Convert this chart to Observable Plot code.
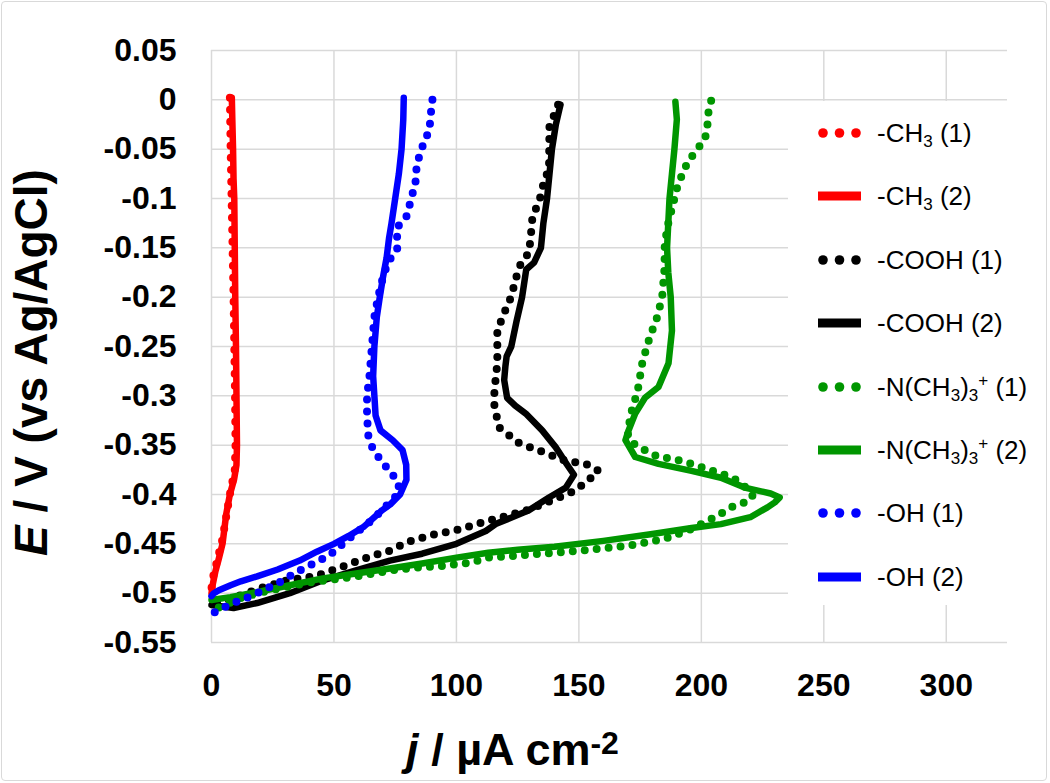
<!DOCTYPE html>
<html><head><meta charset="utf-8">
<script src="https://cdn.jsdelivr.net/npm/d3@7"></script>
<script src="https://cdn.jsdelivr.net/npm/@observablehq/plot@0.6"></script>
<style>
body{margin:0;background:#fff;}
#wrap{position:relative;width:1050px;height:783px;overflow:hidden;font-family:"Liberation Sans",Arial,sans-serif;background:#fff;}
#chart{position:absolute;left:0;top:0;}
#frame{position:absolute;left:1px;top:1px;width:1046px;height:780px;border:1.5px solid #d9d9d9;border-radius:4px;box-sizing:border-box;pointer-events:none;}
#legend{position:absolute;left:788px;top:101px;width:252px;height:504px;background:#fff;}
.item{position:absolute;left:0;height:30px;width:252px;}
.item svg{position:absolute;left:30px;top:5px;}
.item span{position:absolute;left:89px;top:0;line-height:30px;font-size:26px;color:#000;white-space:nowrap;}
.item sub{font-size:17px;vertical-align:-5px;line-height:0;}
.item sup{font-size:17px;vertical-align:10px;line-height:0;}
</style>
</head><body>
<div id="wrap"><div id="chart"></div><div id="legend"></div><div id="frame"></div></div>
<script>
// ---- axis ticks ----
const xTicks = [0, 50, 100, 150, 200, 250, 300];
const xTickLabels = ["0", "50", "100", "150", "200", "250", "300"];
const yTicks = [0.05, 0, -0.05, -0.1, -0.15, -0.2, -0.25, -0.3, -0.35, -0.4, -0.45, -0.5, -0.55];
const yTickLabels = ["0.05", "0", "-0.05", "-0.1", "-0.15", "-0.2", "-0.25", "-0.3", "-0.35", "-0.4", "-0.45", "-0.5", "-0.55"];
const xTitle = "j / µA cm-2";
const yTitle = "E / V (vs Ag/AgCl)";

// ---- series: [j (µA cm-2), E (V)] ----
const CH3_1 = [[7.5,0.002],[7.8,-0.05],[8.2,-0.1],[8.6,-0.15],[9,-0.2],[9.3,-0.25],[9.6,-0.3],[9.8,-0.35],[9.5,-0.375],[7.5,-0.4],[4.5,-0.445],[2,-0.47],[0.5,-0.485],[0,-0.495]];
const CH3_2 = [[8.3,0.002],[8.5,-0.02],[8.8,-0.05],[9.0,-0.08],[9.3,-0.1],[9.5,-0.15],[9.7,-0.2],[10.0,-0.25],[10.2,-0.3],[10.4,-0.35],[10.2,-0.37],[9.2,-0.385],[7.5,-0.4],[6,-0.42],[4.5,-0.45],[3,-0.465],[1.6,-0.478],[0.6,-0.49],[0,-0.5]];
const COOH_1 = [[141.5,-0.005],[140,-0.015],[138,-0.025],[137.8,-0.07],[135.7,-0.083],[134.5,-0.097],[131,-0.12],[130.3,-0.14],[129.6,-0.155],[126.4,-0.165],[124.4,-0.18],[122.3,-0.2],[118.8,-0.22],[116.7,-0.235],[116.7,-0.267],[115.5,-0.295],[115.5,-0.31],[117.4,-0.332],[125.6,-0.348],[136.5,-0.358],[144.7,-0.366],[152.8,-0.369],[158,-0.376],[155,-0.383],[148.6,-0.396],[141.8,-0.403],[130,-0.415],[120,-0.422],[111,-0.428],[102,-0.435],[90,-0.441],[80,-0.448],[72.8,-0.457],[64.5,-0.463],[53.7,-0.473],[42,-0.483],[30.8,-0.487],[20,-0.495],[12,-0.502],[6.5,-0.507],[0,-0.51]];
const COOH_2 = [[142.5,-0.005],[142,-0.01],[140.6,-0.025],[139,-0.05],[138,-0.075],[137,-0.1],[135.5,-0.125],[134.5,-0.15],[131.7,-0.165],[128.5,-0.172],[126.8,-0.2],[124.5,-0.225],[122.4,-0.25],[120.5,-0.26],[120,-0.27],[119.5,-0.284],[120.7,-0.302],[124,-0.31],[128.3,-0.318],[135,-0.335],[140.5,-0.352],[145,-0.369],[148,-0.38],[144.7,-0.393],[137.8,-0.403],[129.6,-0.416],[116,-0.43],[112,-0.437],[100,-0.45],[86,-0.46],[72.8,-0.467],[59,-0.477],[45.5,-0.487],[32,-0.5],[18.6,-0.51],[9,-0.515],[0,-0.512]];
const NME3_1 = [[204,-0.001],[203,-0.01],[202.5,-0.025],[201.5,-0.04],[197,-0.054],[193,-0.07],[190,-0.09],[188,-0.11],[186,-0.13],[185,-0.15],[185,-0.17],[184,-0.2],[182,-0.22],[179,-0.24],[176,-0.265],[174,-0.295],[171,-0.32],[170,-0.34],[173,-0.35],[177,-0.355],[182.5,-0.362],[189,-0.364],[196,-0.369],[201,-0.373],[207,-0.378],[213,-0.383],[219.8,-0.396],[221,-0.402],[217.7,-0.408],[212,-0.413],[207,-0.421],[201.5,-0.428],[195,-0.436],[185,-0.445],[170,-0.452],[150,-0.457],[130,-0.461],[113,-0.464],[106,-0.469],[92,-0.473],[84,-0.474],[72.8,-0.477],[62,-0.482],[50,-0.486],[40,-0.489],[30,-0.494],[20.7,-0.499],[11.8,-0.505],[3.6,-0.514],[0,-0.517]];
const NME3_2 = [[189.4,-0.002],[190,-0.02],[189,-0.05],[188,-0.075],[187,-0.1],[186.5,-0.125],[186,-0.15],[186.5,-0.175],[187.5,-0.2],[188,-0.234],[186.6,-0.267],[182.5,-0.291],[177,-0.302],[173,-0.318],[170.3,-0.335],[169,-0.345],[173,-0.362],[182.5,-0.369],[196,-0.376],[208,-0.383],[217.7,-0.393],[228.3,-0.399],[232,-0.403],[230,-0.408],[227,-0.413],[220,-0.423],[208,-0.43],[196,-0.434],[180,-0.44],[160,-0.447],[140,-0.453],[125,-0.456],[113,-0.459],[100,-0.464],[86,-0.47],[72.8,-0.475],[59,-0.48],[45.5,-0.485],[32,-0.492],[18.6,-0.499],[7.7,-0.504],[0,-0.507]];
const OH_1 = [[90.2,0],[89.5,-0.015],[89,-0.03],[85.7,-0.05],[83.8,-0.066],[83.3,-0.083],[81.6,-0.1],[79.6,-0.118],[75.6,-0.13],[76,-0.15],[72,-0.165],[70,-0.18],[68,-0.2],[66.5,-0.22],[65.5,-0.25],[64.5,-0.28],[63.5,-0.3],[63.5,-0.32],[64,-0.34],[66,-0.355],[70,-0.368],[74,-0.38],[76.5,-0.39],[76,-0.4],[72,-0.41],[66,-0.425],[60,-0.437],[56.5,-0.444],[48,-0.462],[36,-0.477],[27,-0.49],[17,-0.502],[9,-0.51],[3,-0.517],[0,-0.521]];
const OH_2 = [[78.5,0.002],[78.3,-0.02],[77.6,-0.05],[76.5,-0.075],[75,-0.1],[73.5,-0.125],[72.5,-0.14],[71.5,-0.16],[70,-0.18],[68.7,-0.2],[67.5,-0.22],[66.5,-0.25],[66,-0.28],[66.5,-0.3],[67,-0.32],[69,-0.335],[74,-0.345],[78,-0.355],[79.5,-0.37],[79.6,-0.385],[77,-0.4],[73,-0.41],[69.6,-0.416],[62,-0.433],[56,-0.442],[50,-0.45],[43,-0.458],[36,-0.467],[27,-0.476],[18.6,-0.483],[12,-0.488],[7.8,-0.492],[3,-0.497],[1,-0.5],[0,-0.503]];

const seriesNames = ["-CH3 (1)", "-CH3 (2)", "-COOH (1)", "-COOH (2)", "-N(CH3)3+ (1)", "-N(CH3)3+ (2)", "-OH (1)", "-OH (2)"];
const legendHTML = ["-CH<sub>3</sub> (1)", "-CH<sub>3</sub> (2)", "-COOH (1)", "-COOH (2)", "-N(CH<sub>3</sub>)<sub>3</sub><sup>+</sup> (1)", "-N(CH<sub>3</sub>)<sub>3</sub><sup>+</sup> (2)", "-OH (1)", "-OH (2)"];
const seriesData = [CH3_1, CH3_2, COOH_1, COOH_2, NME3_1, NME3_2, OH_1, OH_2];
const seriesColors = ["#ff0000", "#ff0000", "#000000", "#000000", "#009600", "#009600", "#0000ff", "#0000ff"];
const seriesDotted = [true, false, true, false, true, false, true, false];

const font = "'Liberation Sans', Arial, Helvetica, sans-serif";
const grid = {stroke: "#d9d9d9", strokeOpacity: 1, strokeWidth: 1.5};

const lineMarks = seriesData.map((data, i) => Plot.line(data, {
  x: d => d[0], y: d => d[1], curve: "linear",
  stroke: seriesColors[i],
  strokeWidth: seriesDotted[i] ? 8 : 6.5,
  strokeLinecap: "round", strokeLinejoin: "round",
  strokeDasharray: seriesDotted[i] ? "0 12" : null
}));

const chart = Plot.plot({
  width: 1050, height: 783,
  marginLeft: 211, marginRight: 43, marginTop: 50, marginBottom: 141,
  style: {fontFamily: font, fontWeight: "bold", color: "#000", background: "transparent", overflow: "visible"},
  x: {domain: [0, 325]},
  y: {domain: [-0.55, 0.05]},
  marks: [
    Plot.gridX(xTicks, grid),
    Plot.gridY(yTicks, grid),
    Plot.axisX(xTicks, {tickSize: 0, tickPadding: 31, fontSize: 32, label: null, tickFormat: d => xTickLabels[xTicks.indexOf(d)]}),
    Plot.axisY(yTicks, {tickSize: 0, tickPadding: 35, fontSize: 32, label: null, tickFormat: d => yTickLabels[yTicks.indexOf(d)]}),
    ...lineMarks,
    Plot.text([xTitle], {text: d => d, frameAnchor: "bottom", textAnchor: "middle", dx: -97, dy: 122, lineAnchor: "bottom", fontSize: 45, fontWeight: "bold", fill: "#000"}),
    Plot.text([yTitle], {text: d => d, frameAnchor: "left", textAnchor: "middle", rotate: -90, dx: -165, dy: 16, lineAnchor: "bottom", fontSize: 46, fontWeight: "bold", fill: "#000"})
  ]
});
document.getElementById("chart").appendChild(chart);

// rich-text axis titles (italic symbol, superscript)
const NS = "http://www.w3.org/2000/svg";
function rebuild(textEl, parts) {
  while (textEl.firstChild) textEl.removeChild(textEl.firstChild);
  parts.forEach(p => {
    const t = document.createElementNS(NS, "tspan");
    t.textContent = p.s;
    if (p.italic) t.setAttribute("font-style", "italic");
    if (p.sup) { t.setAttribute("font-size", "32"); t.setAttribute("dy", "-11"); }
    textEl.appendChild(t);
  });
}
chart.querySelectorAll("text").forEach(t => {
  if (t.textContent === xTitle) rebuild(t, [{s: "j", italic: true}, {s: " / µA cm"}, {s: "-2", sup: true}]);
  else if (t.textContent === yTitle) rebuild(t, [{s: "E", italic: true}, {s: " / V (vs Ag/AgCl)"}]);
});

// legend
const legend = document.getElementById("legend");
seriesNames.forEach((name, i) => {
  const item = document.createElement("div");
  item.className = "item";
  item.style.top = (32 + 63.4 * i - 15) + "px";
  const c = seriesColors[i];
  const sample = seriesDotted[i]
    ? `<circle cx="5" cy="10" r="4.8" fill="${c}"/><circle cx="21.5" cy="10" r="4.8" fill="${c}"/><circle cx="38" cy="10" r="4.8" fill="${c}"/>`
    : `<rect x="0" y="5.5" width="43" height="9" fill="${c}"/>`;
  item.innerHTML = `<svg width="44" height="20" viewBox="0 0 44 20">${sample}</svg><span title="${name}">${legendHTML[i]}</span>`;
  legend.appendChild(item);
});
</script>
</body></html>
